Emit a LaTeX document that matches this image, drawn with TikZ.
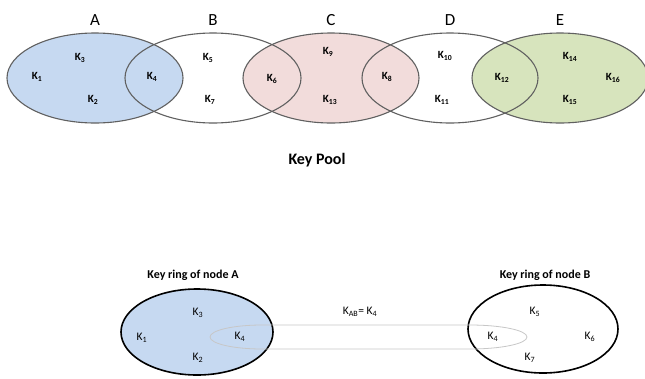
\documentclass[tikz,border=0pt]{standalone}
\usepackage{fontspec}
\setmainfont{Carlito}
\definecolor{poolblue}{HTML}{C6D9F1}
\definecolor{poolpink}{HTML}{F2DCDB}
\definecolor{poolgreen}{HTML}{D7E4BD}
\definecolor{poolline}{HTML}{606060}
\newcommand\kk[1]{K\textsubscript{#1}}
\tikzset{
  poolkey/.style={font=\fontsize{11}{13}\selectfont\bfseries, inner sep=1pt},
  ringkey/.style={font=\fontsize{11.5}{13}\selectfont, inner sep=1pt},
  ringtitle/.style={font=\fontsize{12}{14}\selectfont\bfseries, inner sep=1pt}
}
\begin{document}
\begin{tikzpicture}[x=1pt,y=-1pt]
        \fill[white] (0,0) rectangle (645,378);
        \useasboundingbox (0,0) rectangle (645,378);
        % key pool
        \foreach \cx/\fc in {95/poolblue, 331/poolpink, 560/poolgreen} {
          \fill[\fc] (\cx,78) ellipse [x radius=88, y radius=45];
        }
        \foreach \cx/\name in {95/A, 213/B, 331/C, 450/D, 560/E} {
          \draw[poolline, line width=1.1pt] (\cx,78) ellipse [x radius=88, y radius=45];
          \node[font=\fontsize{17}{19}\selectfont] (set\name) at (\cx,20) {\name};
        }
        \foreach \n/\x/\y in {1/37/77, 3/80/58, 2/93/100, 4/152/77, 5/208/58, 7/210/100,
            6/272/79, 9/328/52, 13/330/100, 8/387/77, 10/445/56, 11/442/100,
            12/502/78, 14/570/57, 16/613/78, 15/570/100} {
          \node[poolkey] (pk\n) at (\x,\y) {\kk{\n}};
        }
        \node[font=\fontsize{16}{18}\selectfont\bfseries] (pool) at (317,160) {Key Pool};
        % key rings
        \filldraw[fill=poolblue, draw=black, line width=1.6pt] (197,332) ellipse [x radius=76, y radius=43];
        \draw[black, line width=1.6pt] (543,329) ellipse [x radius=75, y radius=44];
        \draw[black!22, line width=0.8pt] (262,325) -- (470,325)
          arc [start angle=-90, end angle=90, x radius=57, y radius=12] -- (262,349)
          arc [start angle=90, end angle=270, x radius=52, y radius=12];
        \node[ringtitle] (titleA) at (193,275) {Key ring of node A};
        \node[ringtitle] (titleB) at (545,275) {Key ring of node B};
        \node[ringkey] (shared) at (360,312) {K\textsubscript{AB}= \kk{4}};
        \foreach \n/\x/\y in {3/198/313, 1/142/338, 4/240/337, 2/198/358} {
          \node[ringkey] (ra\n) at (\x,\y) {\kk{\n}};
        }
        \foreach \n/\x/\y in {5/535/312, 4/493/337, 6/590/337, 7/530/358} {
          \node[ringkey] (rb\n) at (\x,\y) {\kk{\n}};
        }
\end{tikzpicture}
\end{document}
